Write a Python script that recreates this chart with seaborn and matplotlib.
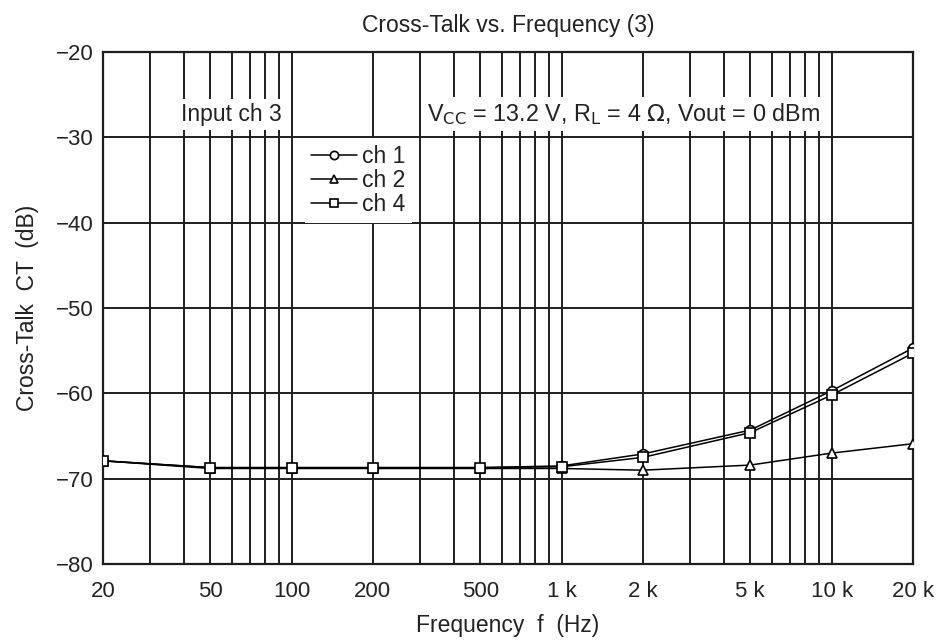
import numpy as np
import pandas as pd
import matplotlib
matplotlib.use("Agg")
import matplotlib.pyplot as plt
import seaborn as sns
from matplotlib.ticker import LogLocator, NullFormatter

# values
freq_hz = [20, 50, 100, 200, 500, 1000, 2000, 5000, 10000, 20000]
ch1_db = [-67.9, -68.7, -68.7, -68.7, -68.7, -68.5, -67.1, -64.3, -59.7, -54.7]
ch2_db = [-67.9, -68.8, -68.8, -68.8, -68.8, -68.8, -69.0, -68.4, -67.0, -65.9]
ch4_db = [-67.9, -68.7, -68.7, -68.7, -68.7, -68.6, -67.5, -64.6, -60.2, -55.3]

x_ticks = [20, 50, 100, 200, 500, 1000, 2000, 5000, 10000, 20000]
x_tick_labels = ["20", "50", "100", "200", "500", "1 k", "2 k", "5 k", "10 k", "20 k"]
y_ticks = [-80, -70, -60, -50, -40, -30, -20]

channels = ["ch 1", "ch 2", "ch 4"]
markers = {"ch 1": "o", "ch 2": "^", "ch 4": "s"}

df = pd.DataFrame({
    "freq": freq_hz * 3,
    "ct": ch1_db + ch2_db + ch4_db,
    "channel": [c for c in channels for _ in freq_hz],
})

sns.set_style("white")
plt.rcParams["font.family"] = ["Liberation Sans", "DejaVu Sans"]
ink = "#222222"

fig = plt.figure(figsize=(9.44, 6.41), dpi=100)
ax = fig.add_axes([0.109, 0.120, 0.858, 0.799])

sns.lineplot(data=df, x="freq", y="ct", hue="channel", style="channel",
             palette={c: "black" for c in channels}, markers=markers, dashes=False,
             markersize=7, markerfacecolor="white", markeredgecolor="black",
             markeredgewidth=1.2, linewidth=1.1, legend=False, ax=ax, zorder=4)

ax.set_xscale("log")
ax.set_xlim(20, 20000)
ax.set_ylim(-80, -20)
ax.set_xticks(x_ticks)
ax.set_xticklabels(x_tick_labels, fontsize=16)
ax.xaxis.set_minor_locator(LogLocator(base=10, subs=np.arange(2, 10)))
ax.xaxis.set_minor_formatter(NullFormatter())
ax.set_yticks(y_ticks)
ax.set_yticklabels([f"\u2212{abs(v)}" for v in y_ticks], fontsize=16)
ax.tick_params(axis="both", which="both", length=0, colors=ink)
ax.tick_params(axis="x", pad=12.5)
ax.tick_params(axis="y", pad=7)

ax.grid(True, which="both", color="#1e1e1e", linewidth=1.4)
ax.set_axisbelow(True)
for sp in ax.spines.values():
    sp.set_color("#1e1e1e")
    sp.set_linewidth(1.6)

ax.set_title("Cross-Talk vs. Frequency (3)", fontsize=16.5, pad=14, color=ink)
ax.set_xlabel("Frequency  f  (Hz)", fontsize=16.5, color=ink, labelpad=8)
ax.set_ylabel("Cross-Talk  CT  (dB)", fontsize=16.5, color=ink, labelpad=12)

box = dict(facecolor="white", edgecolor="none", pad=3)
ax.text(39, -27.3, "Input ch 3", fontsize=16.5, ha="left", va="center",
        color=ink, bbox=box, zorder=3)
ax.text(318, -27.3,
        r"V$_{\mathrm{CC}}$ = 13.2 V, R$_{\mathrm{L}}$ = 4 $\Omega$, Vout = 0 dBm",
        fontsize=16.8, ha="left", va="center", color=ink, bbox=box, zorder=3)

leg = ax.legend(handles=ax.lines[:3], labels=channels, loc="upper left",
                bbox_to_anchor=(0.249, 0.832), frameon=True, fancybox=False,
                edgecolor="none", framealpha=1, fontsize=16.5, handlelength=2.0,
                handletextpad=0.2, labelspacing=0.05, borderpad=0.3,
                borderaxespad=0, markerscale=0.85)
for t in leg.get_texts():
    t.set_color(ink)

fig.savefig("out.png", dpi=100)
